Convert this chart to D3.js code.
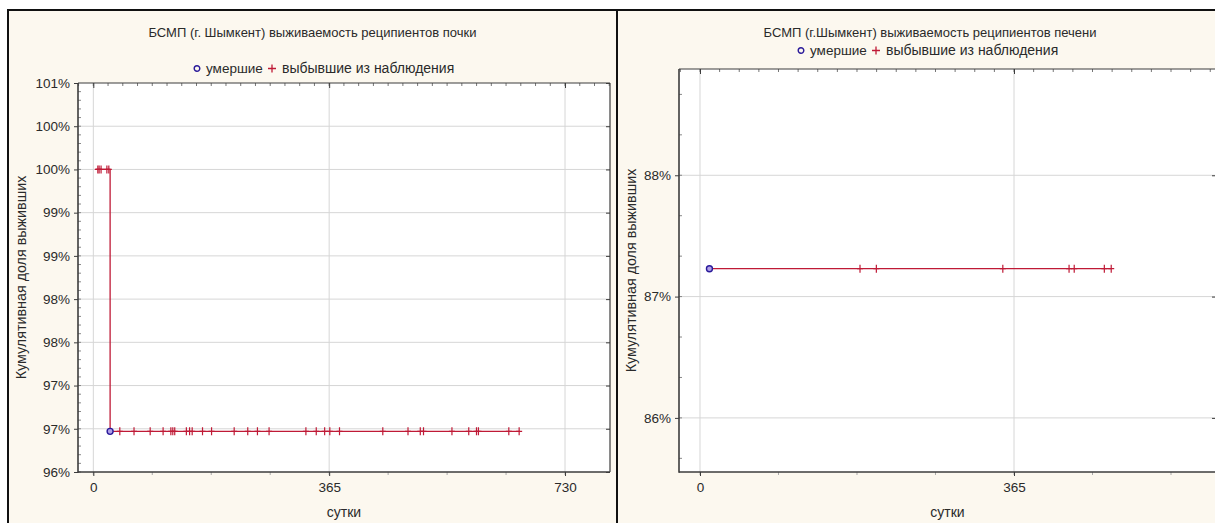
<!DOCTYPE html>
<html><head><meta charset="utf-8">
<script src="https://cdn.jsdelivr.net/npm/d3@7"></script>
<style>
html,body{margin:0;padding:0;background:#fff;}
svg{display:block;font-family:"Liberation Sans",Arial,sans-serif;}
</style></head><body>
<svg id="chart" width="1215" height="523"></svg>
<script>
// ---------- data ----------
const kidneyTitle = "БСМП (г. Шымкент) выживаемость реципиентов почки";
const liverTitle = "БСМП (г.Шымкент) выживаемость реципиентов печени";
const legendLabels = ["умершие", "выбывшие из наблюдения"];
const xAxisLabel = "сутки";
const yAxisLabel = "Кумулятивная доля выживших";

const xTicks = [0, 365, 730];
const xTickLabels = ["0", "365", "730"];

// kidney recipients (Kaplan-Meier)
const kidneyStepTimes = [3, 26, 660];
const kidneyStepSurvival = [100, 96.97, 96.97];
const kidneyDeathTimes = [26];
const kidneyDeathSurvival = [96.97];
const kidneyCensoredTimes = [7, 9, 12, 21, 24,
  41, 63, 88, 108, 120, 123, 126, 144, 149, 153, 169, 183, 218, 239, 254, 272,
  329, 345, 358, 366, 381, 448, 487, 506, 511, 555, 581, 593, 596, 643, 659];
const kidneyCensoredSurvival = [100, 100, 100, 100, 100,
  96.97, 96.97, 96.97, 96.97, 96.97, 96.97, 96.97, 96.97, 96.97, 96.97, 96.97, 96.97, 96.97, 96.97, 96.97, 96.97,
  96.97, 96.97, 96.97, 96.97, 96.97, 96.97, 96.97, 96.97, 96.97, 96.97, 96.97, 96.97, 96.97, 96.97, 96.97];
const kidneyYTicks = [96.5, 97, 97.5, 98, 98.5, 99, 99.5, 100, 100.5, 101];
const kidneyYTickLabels = ["96%", "97%", "97%", "98%", "98%", "99%", "99%", "100%", "100%", "101%"];

// liver recipients (Kaplan-Meier)
const liverStepTimes = [11, 478];
const liverStepSurvival = [87.23, 87.23];
const liverDeathTimes = [11];
const liverDeathSurvival = [87.23];
const liverCensoredTimes = [186, 205, 352, 429, 435, 470, 478];
const liverCensoredSurvival = [87.23, 87.23, 87.23, 87.23, 87.23, 87.23, 87.23];
const liverYTicks = [86, 87, 88];
const liverYTickLabels = ["86%", "87%", "88%"];

// ---------- layout ----------
const LINE = "#bf1a36";
const DEATH = "#2a1a9a";
const PANEL_BG = "#fcf8ef";
const GRID = "#d6d6d6";
const AXIS = "#3c3c3c";
const TEXT = "#2a2a2a";

const svg = d3.select("#chart");

const panels = [
  {
    box: {x: 8, y: 10, w: 609, h: 520},
    plot: {l: 78, r: 610, t: 83, b: 472},
    xDomain: [-23.7, 799.6], yDomain: [96.5, 101],
    title: kidneyTitle, titleY: 37, legendY: 73, legendX: 197,
    yTicks: kidneyYTicks, yTickLabels: kidneyYTickLabels, yMinorStep: 0.1,
    steps: [kidneyStepTimes, kidneyStepSurvival],
    deaths: [kidneyDeathTimes, kidneyDeathSurvival],
    cens: [kidneyCensoredTimes, kidneyCensoredSurvival],
    yLabelX: 26
  },
  {
    box: {x: 617, y: 10, w: 640, h: 520},
    plot: {l: 679, r: 1216, t: 69, b: 472},
    xDomain: [-24.4, 599.8], yDomain: [85.554, 88.876],
    title: liverTitle, titleY: 37, legendY: 55, legendX: 801,
    yTicks: liverYTicks, yTickLabels: liverYTickLabels, yMinorStep: 1/3,
    steps: [liverStepTimes, liverStepSurvival],
    deaths: [liverDeathTimes, liverDeathSurvival],
    cens: [liverCensoredTimes, liverCensoredSurvival],
    yLabelX: 636
  }
];

panels.forEach(p => {
  const g = svg.append("g");
  const {l, r, t, b} = p.plot;
  const x = d3.scaleLinear().domain(p.xDomain).range([l, r]);
  const y = d3.scaleLinear().domain(p.yDomain).range([b, t]);

  // panel background + border
  g.append("rect").attr("x", p.box.x).attr("y", p.box.y)
    .attr("width", p.box.w).attr("height", p.box.h)
    .attr("fill", PANEL_BG).attr("stroke", "#111").attr("stroke-width", 2);

  // plot area
  g.append("rect").attr("x", l).attr("y", t).attr("width", r - l).attr("height", b - t)
    .attr("fill", "#fff");

  // gridlines
  g.append("g").selectAll("line").data(p.yTicks.filter(v => y(v) > t + 1 && y(v) < b - 1))
    .join("line")
    .attr("x1", l).attr("x2", r).attr("y1", d => y(d)).attr("y2", d => y(d))
    .attr("stroke", GRID).attr("stroke-width", 1);
  g.append("g").selectAll("line").data(xTicks.filter(v => x(v) > l && x(v) < r))
    .join("line")
    .attr("y1", t).attr("y2", b).attr("x1", d => x(d)).attr("x2", d => x(d))
    .attr("stroke", GRID).attr("stroke-width", 1);

  // minor ticks
  const yMinor = d3.range(Math.ceil(p.yDomain[0] / p.yMinorStep) * p.yMinorStep, p.yDomain[1], p.yMinorStep);
  g.append("g").selectAll("line").data(yMinor).join("line")
    .attr("x1", l).attr("x2", l + 3).attr("y1", d => y(d)).attr("y2", d => y(d))
    .attr("stroke", "#888").attr("stroke-width", 1);
  const xMinor = d3.range(Math.ceil(p.xDomain[0] / 91.25) * 91.25, p.xDomain[1], 91.25);
  g.append("g").selectAll("line").data(xMinor).join("line")
    .attr("y1", b).attr("y2", b + 3).attr("x1", d => x(d)).attr("x2", d => x(d))
    .attr("stroke", "#aaa").attr("stroke-width", 1);
  const xTopMinor = d3.range(Math.ceil(p.xDomain[0] / 22.8125) * 22.8125, p.xDomain[1], 22.8125);
  g.append("g").selectAll("line").data(xTopMinor).join("line")
    .attr("y1", t).attr("y2", t + 3).attr("x1", d => x(d)).attr("x2", d => x(d))
    .attr("stroke", "#777").attr("stroke-width", 1);

  // axes via d3
  const yAxis = d3.axisLeft(y).tickValues(p.yTicks)
    .tickFormat((d, i) => p.yTickLabels[i]).tickSize(4).tickPadding(4);
  const ya = g.append("g").attr("transform", `translate(${l},0)`).call(yAxis);
  const xAxis = d3.axisBottom(x).tickValues(xTicks.filter(v => v <= p.xDomain[1]))
    .tickFormat((d, i) => xTickLabels[i]).tickSize(4).tickPadding(6);
  const xa = g.append("g").attr("transform", `translate(0,${b})`).call(xAxis);
  [ya, xa].forEach(a => {
    a.select(".domain").remove();
    a.selectAll("line").attr("stroke", AXIS);
    a.selectAll("text").attr("fill", TEXT).attr("font-size", 13.5)
      .attr("font-family", '"Liberation Sans", Arial, sans-serif');
  });
  // right and top inner major ticks
  const yr = d3.axisLeft(y).tickValues(p.yTicks).tickFormat("").tickSize(4);
  const yra = g.append("g").attr("transform", `translate(${r},0)`).call(yr);
  yra.select(".domain").remove(); yra.selectAll("line").attr("stroke", AXIS);
  const xt = d3.axisBottom(x).tickValues(xTicks.filter(v => v <= p.xDomain[1])).tickFormat("").tickSize(5);
  const xta = g.append("g").attr("transform", `translate(0,${t})`).call(xt);
  xta.select(".domain").remove(); xta.selectAll("line").attr("stroke", AXIS);

  // frame
  g.append("line").attr("x1", l).attr("x2", r).attr("y1", t).attr("y2", t).attr("stroke", AXIS).attr("stroke-width", 1);
  g.append("line").attr("x1", r).attr("x2", r).attr("y1", t).attr("y2", b).attr("stroke", AXIS).attr("stroke-width", 1.2);
  g.append("line").attr("x1", l).attr("x2", l).attr("y1", t).attr("y2", b + 0.75).attr("stroke", AXIS).attr("stroke-width", 1.6);
  g.append("line").attr("x1", l).attr("x2", r).attr("y1", b).attr("y2", b).attr("stroke", AXIS).attr("stroke-width", 1.6);

  // title & legend
  const cx = (p.box.x + Math.min(p.box.x + p.box.w, p.box.x + 626)) / 2;
  g.append("text").attr("x", cx).attr("y", p.titleY).attr("text-anchor", "middle")
    .attr("font-size", 13).attr("fill", TEXT).text(p.title);
  const lg = g.append("g").attr("transform", `translate(${p.legendX},${p.legendY})`);
  lg.append("circle").attr("cx", 0).attr("cy", -4.5).attr("r", 2.8)
    .attr("fill", "none").attr("stroke", DEATH).attr("stroke-width", 1.4);
  lg.append("text").attr("x", 9).attr("y", 0).attr("font-size", 13.5).attr("fill", TEXT).text(legendLabels[0]);
  lg.append("path").attr("d", "M71,-4.5h8M75,-8.5v8").attr("stroke", LINE).attr("stroke-width", 1.3);
  lg.append("text").attr("x", 85).attr("y", 0).attr("font-size", 14).attr("fill", TEXT).text(legendLabels[1]);

  // axis titles
  g.append("text").attr("x", (l + r) / 2).attr("y", b + 45).attr("text-anchor", "middle")
    .attr("font-size", 14).attr("fill", TEXT).text(xAxisLabel);
  g.append("text").attr("transform", `translate(${p.yLabelX},${(t + b) / 2}) rotate(-90)`)
    .attr("text-anchor", "middle").attr("font-size", 14.3).attr("fill", TEXT).text(yAxisLabel);

  // survival step line
  const stepData = p.steps[0].map((tm, i) => [tm, p.steps[1][i]]);
  g.append("path").datum(stepData)
    .attr("d", d3.line().x(d => x(d[0])).y(d => y(d[1])).curve(d3.curveStepAfter))
    .attr("fill", "none").attr("stroke", LINE).attr("stroke-width", 1.3);

  // censored marks
  const censData = p.cens[0].map((tm, i) => [tm, p.cens[1][i]]);
  g.append("g").selectAll("path").data(censData).join("path")
    .attr("d", d => `M${x(d[0]) - 3},${y(d[1])}h6M${x(d[0])},${y(d[1]) - 4}v8`)
    .attr("stroke", LINE).attr("stroke-width", 1.2).attr("fill", "none");

  // deaths
  const deathData = p.deaths[0].map((tm, i) => [tm, p.deaths[1][i]]);
  g.append("g").selectAll("circle").data(deathData).join("circle")
    .attr("cx", d => x(d[0])).attr("cy", d => y(d[1])).attr("r", 3)
    .attr("fill", "#b0a0e8").attr("stroke", DEATH).attr("stroke-width", 1.4);
});
</script>
</body></html>
